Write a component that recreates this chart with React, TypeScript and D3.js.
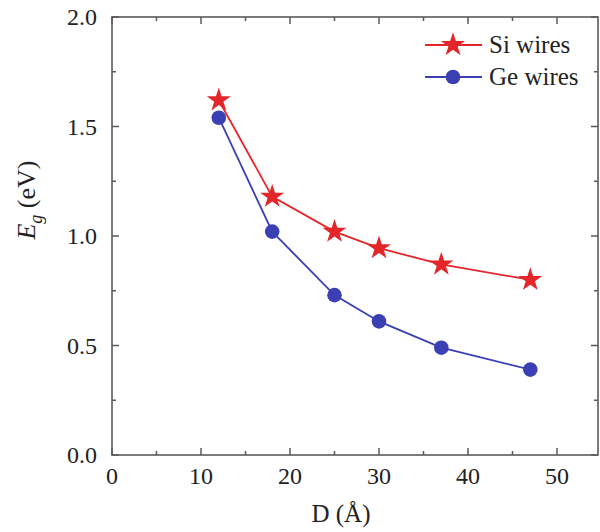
import React from "react";
import * as d3 from "d3";

const diameters = [12, 18, 25, 30, 37, 47];
const siGap = [1.62, 1.18, 1.02, 0.945, 0.87, 0.8];
const geGap = [1.54, 1.02, 0.73, 0.61, 0.49, 0.39];
const xMajorTicks = [0, 10, 20, 30, 40, 50];
const xMinorTicks = [5, 15, 25, 35, 45];
const yMajorTicks = [0, 0.5, 1.0, 1.5, 2.0];
const yMinorTicks = [0.25, 0.75, 1.25, 1.75];
const legendLabels = ["Si wires", "Ge wires"];

const W = 600, H = 532;
const left = 112, right = 598, top = 17, bottom = 455;
const RED = "#e3262a";
const BLUE = "#3b3fb4";
const AXIS = "#5a5a5a";
const FONT = "Liberation Serif";

export default function App() {
  const x = d3.scaleLinear().domain([0, 50]).range([left, 557]);
  const y = d3.scaleLinear().domain([0, 2]).range([bottom, top]);
  const line = d3.line<[number, number]>().x(d => x(d[0])).y(d => y(d[1]));
  const siPts: [number, number][] = diameters.map((d, i) => [d, siGap[i]]);
  const gePts: [number, number][] = diameters.map((d, i) => [d, geGap[i]]);
  const star = d3.symbol().type(d3.symbolStar).size(180)()!;

  return (
    <svg width={W} height={H} style={{ display: "block", position: "absolute", left: 0, top: 0, background: "#fff" }}>
      <rect x={0} y={0} width={W} height={H} fill="#fff" />
      {/* frame */}
      <rect x={left} y={top} width={right - left} height={bottom - top} fill="none" stroke={AXIS} strokeWidth={1.6} />
      {/* x ticks */}
      {xMajorTicks.map(t => (
        <g key={"xm" + t}>
          <line x1={x(t)} x2={x(t)} y1={bottom} y2={bottom - 7} stroke={AXIS} strokeWidth={1.5} />
          <line x1={x(t)} x2={x(t)} y1={top} y2={top + 7} stroke={AXIS} strokeWidth={1.5} />
          <text x={x(t)} y={484} textAnchor="middle" fontFamily={FONT} fontSize={24} fill="#222">{t}</text>
        </g>
      ))}
      {xMinorTicks.map(t => (
        <g key={"xn" + t}>
          <line x1={x(t)} x2={x(t)} y1={bottom} y2={bottom - 4} stroke={AXIS} strokeWidth={1.5} />
          <line x1={x(t)} x2={x(t)} y1={top} y2={top + 4} stroke={AXIS} strokeWidth={1.5} />
        </g>
      ))}
      {/* y ticks */}
      {yMajorTicks.map(t => (
        <g key={"ym" + t}>
          <line x1={left} x2={left + 7} y1={y(t)} y2={y(t)} stroke={AXIS} strokeWidth={1.5} />
          <line x1={right} x2={right - 7} y1={y(t)} y2={y(t)} stroke={AXIS} strokeWidth={1.5} />
          <text x={97} y={y(t) + 8} textAnchor="end" fontFamily={FONT} fontSize={24} fill="#222">{t.toFixed(1)}</text>
        </g>
      ))}
      {yMinorTicks.map(t => (
        <g key={"yn" + t}>
          <line x1={left} x2={left + 4} y1={y(t)} y2={y(t)} stroke={AXIS} strokeWidth={1.5} />
          <line x1={right} x2={right - 4} y1={y(t)} y2={y(t)} stroke={AXIS} strokeWidth={1.5} />
        </g>
      ))}
      {/* axis titles */}
      <text x={341} y={522} textAnchor="middle" fontFamily={FONT} fontSize={25} fill="#222">D (Å)</text>
      <text transform="translate(35,200) rotate(-90)" textAnchor="middle" fontFamily={FONT} fontSize={26} fill="#222">
        <tspan fontStyle="italic">E</tspan>
        <tspan fontStyle="italic" fontSize={18} dy={7}>g</tspan>
        <tspan dy={-7}> (eV)</tspan>
      </text>
      {/* series */}
      <path d={line(siPts)!} fill="none" stroke={RED} strokeWidth={1.8} />
      <path d={line(gePts)!} fill="none" stroke={BLUE} strokeWidth={1.8} />
      {gePts.map((p, i) => (
        <circle key={"ge" + i} cx={x(p[0])} cy={y(p[1])} r={7.3} fill={BLUE} />
      ))}
      {siPts.map((p, i) => (
        <path key={"si" + i} d={star} transform={`translate(${x(p[0])},${y(p[1])})`} fill={RED} />
      ))}
      {/* legend */}
      <line x1={425} x2={482} y1={45} y2={45} stroke={RED} strokeWidth={1.8} />
      <path d={star} transform="translate(453,45)" fill={RED} />
      <text x={489} y={53} fontFamily={FONT} fontSize={25} fill="#222">{legendLabels[0]}</text>
      <line x1={425} x2={482} y1={77} y2={77} stroke={BLUE} strokeWidth={1.8} />
      <circle cx={453} cy={77} r={7.3} fill={BLUE} />
      <text x={489} y={85} fontFamily={FONT} fontSize={25} fill="#222">{legendLabels[1]}</text>
    </svg>
  );
}
